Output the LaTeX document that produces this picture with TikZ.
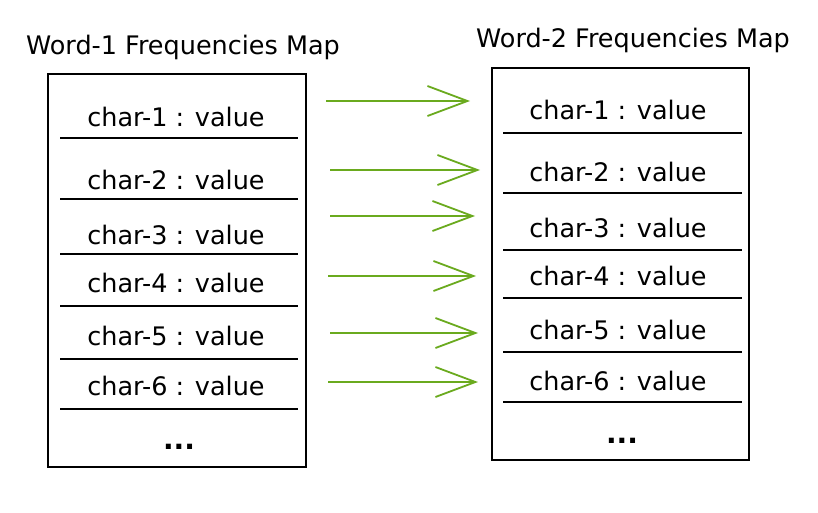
\documentclass[tikz,border=0pt]{standalone}
\usepackage{fontspec}
\setsansfont{DejaVu Sans}
\usepackage{tikz}
\usetikzlibrary{arrows.meta}
\definecolor{linkgreen}{RGB}{106,170,30}

\begin{document}
\begin{tikzpicture}[x=1pt,y=-1pt,
  lbl/.style={font=\sffamily\fontsize{25.5}{28}\selectfont,inner sep=0pt},
  dots/.style={font=\sffamily\bfseries\fontsize{28}{30}\selectfont,inner sep=0pt},
  rowline/.style={line width=1.8pt},
  mapbox/.style={line width=1.8pt},
  link/.style={linkgreen,line width=1.8pt,-{Straight Barb[length=40pt,width=30pt]}}]
\useasboundingbox (0,0) rectangle (818,513);
% titles
\node[lbl] (title1) at (183,47) {Word-1 Frequencies Map};
\node[lbl] (title2) at (633,40) {Word-2 Frequencies Map};
% the two maps
\draw[mapbox](48,74) rectangle (306,467);
\draw[mapbox](492,68) rectangle (749,460);
% left rows
\foreach \i/\ty/\ly in {1/117/138,2/180/199,3/235/254,4/283/306,5/336/359,6/386/409}{
\node[lbl] (l\i) at (176,\ty) {char-\i{} : value};
\draw[rowline](60,\ly)--(298,\ly);
}
\node[dots] (ldots) at (179,447) {...};
% right rows
\foreach \i/\ty/\ly in {1/110/133,2/172/193,3/228/250,4/276/298,5/330/352,6/381/402}{
\node[lbl] (r\i) at (618,\ty) {char-\i{} : value};
\draw[rowline](503,\ly)--(742,\ly);
}
\node[dots] (rdots) at (622,441) {...};
% arrows
\foreach \i/\y/\xs/\xe in {1/101/326/470,2/170/330/480,3/216/330/475,4/276/328/476,5/333/330/478,6/382/328/478}{
\coordinate (s\i) at (\xs,\y);
\coordinate (e\i) at (\xe,\y);
\draw[link](s\i)--(e\i);
}
\end{tikzpicture}
\end{document}
